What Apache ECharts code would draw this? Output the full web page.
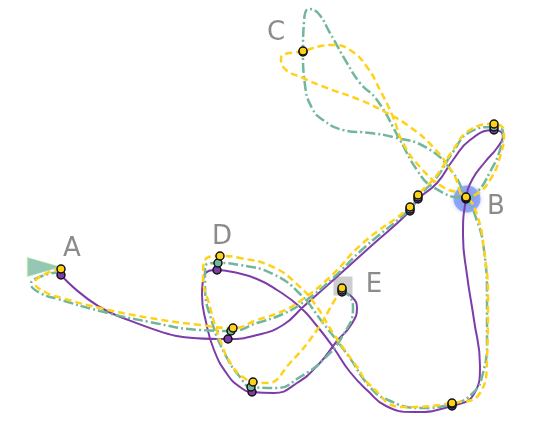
<!DOCTYPE html>
<html>
<head>
<meta charset="utf-8">
<script src="https://cdn.jsdelivr.net/npm/echarts@6/dist/echarts.min.js"></script>
<style>
  html, body { margin: 0; padding: 0; background: #fff; }
  #chart { width: 534px; height: 423px; }
</style>
</head>
<body>
<div id="chart"></div>
<script>
// route waypoints (x, y in plot units, y grows downward)
let purplePath = [
  [61, 275], [118, 316], [228, 339], [257, 335], [283, 325],
  [303, 307], [330, 283], [370, 247], [410, 211], [418, 199], [437, 183], [453, 160],
  [470, 140], [494, 130], [503, 136], [497, 148], [485, 162], [472, 180], [466, 199],
  [463, 235], [467, 275], [474, 320], [480, 366], [474, 394], [452, 406], [413, 412],
  [386, 406], [368, 391], [350, 372], [333, 347], [317, 326], [300, 307], [277, 290],
  [257, 279], [233, 272], [217, 270], [204, 276], [202, 295], [206, 322], [214, 350],
  [227, 374], [240, 387], [252, 392], [274, 393], [297, 383], [318, 365], [337, 341],
  [351, 325], [357, 308], [352, 297], [342, 292]
];
let purpleDots = [0, 2, 8, 9, 13, 18, 24, 35, 42, 50];

let greenPath = [
  [61, 272], [42, 276], [31, 284], [40, 293], [58, 299], [100, 311], [150, 322],
  [200, 330], [231, 331], [257, 323], [283, 314], [305, 301], [332, 279], [365, 247],
  [410, 209], [418, 197], [437, 177], [453, 152], [470, 132], [494, 127], [503, 132],
  [500, 150], [490, 172], [478, 191], [466, 198], [433, 187], [417, 170], [400, 140],
  [377, 100], [360, 83], [347, 63], [330, 33], [318, 13], [309, 9], [304, 22],
  [303, 52], [305, 85], [312, 108], [323, 120], [343, 130], [370, 133], [393, 137],
  [427, 148], [453, 173], [466, 198], [475, 215], [484, 250], [487, 300], [487, 340],
  [483, 373], [473, 393], [452, 404], [420, 408], [388, 400], [370, 387], [347, 354],
  [323, 323], [300, 294], [273, 274], [240, 265], [218, 263], [205, 267], [205, 285],
  [212, 322], [226, 356], [240, 377], [251, 387], [277, 388], [300, 377], [323, 360],
  [345, 332], [353, 308], [350, 297], [342, 290]
];
let greenDots = [8, 14, 15, 19, 24, 35, 51, 60, 66, 73];

let yellowPath = [
  [61, 269], [43, 275], [35, 283], [45, 292], [62, 298], [100, 308], [150, 318],
  [200, 325], [233, 328], [257, 320], [283, 311], [303, 299], [330, 277], [363, 243],
  [410, 207], [418, 195], [437, 175], [453, 150], [470, 130], [494, 124], [504, 132],
  [500, 157], [490, 180], [478, 193], [466, 197], [453, 173], [433, 147], [410, 127],
  [387, 113], [360, 100], [327, 88], [303, 78], [284, 68], [281, 58], [303, 51],
  [333, 45], [350, 50], [367, 67], [380, 90], [393, 117], [403, 143], [420, 167],
  [443, 187], [466, 197], [477, 215], [484, 250], [488, 300], [487, 360], [480, 393],
  [452, 403], [403, 407], [370, 385], [357, 367], [333, 333], [317, 307], [300, 287],
  [273, 267], [240, 258], [220, 256], [205, 260], [203, 275], [210, 307], [220, 340],
  [233, 367], [247, 380], [253, 382], [267, 383], [290, 363], [317, 330], [333, 303],
  [342, 288]
];
let yellowDots = [0, 8, 14, 15, 19, 24, 34, 49, 58, 65, 70];

let nodeNames = ["A", "B", "C", "D", "E"];
let nodeMarks = [[44, 267], [467, 199], [303, 51], [218, 262], [343, 286]];
let nodeLabels = [[72, 249], [496, 207], [276, 33], [222, 237], [374, 285]];

let color = ["#7d3ca8", "#72b79c", "#ffd21a", "#6e6e6e", "#111"];

function route(path, dots) {
  return path.map((p, i) => ({
    value: p,
    symbol: dots.indexOf(i) >= 0 ? "circle" : "none"
  }));
}

function lineSeries(name, path, dots, c, type, width) {
  return {
    name: name,
    type: "line",
    smooth: 0.5,
    showAllSymbol: true,
    symbolSize: 8,
    data: route(path, dots),
    lineStyle: { color: c, width: width, type: type, cap: "butt" },
    itemStyle: { color: c, borderColor: color[4], borderWidth: 1.5 },
    emphasis: { disabled: true },
    z: 3
  };
}

let markStyles = [
  { symbol: "triangle", symbolSize: [19, 33], symbolRotate: -90,
    itemStyle: { color: "rgba(114,183,156,0.95)", borderColor: "#b5e6a8", borderWidth: 1 } },
  { symbol: "circle", symbolSize: 27,
    itemStyle: { color: "rgba(96,128,240,0.75)", shadowBlur: 4, shadowColor: "rgba(96,128,240,0.6)" } },
  { symbol: "none" },
  { symbol: "none" },
  { symbol: "rect", symbolSize: 19,
    itemStyle: { color: "rgba(150,150,150,0.6)" } }
];

let dom = document.getElementById("chart");
let myChart = echarts.init(dom);

let option = {
  backgroundColor: "#fff",
  animation: false,
  grid: { left: 0, right: 0, top: 0, bottom: 0 },
  xAxis: { type: "value", min: 0, max: 534, show: false },
  yAxis: { type: "value", min: 0, max: 423, inverse: true, show: false },
  series: [
    {
      name: "marks",
      type: "scatter",
      z: 1,
      silent: true,
      data: nodeMarks.map((p, i) => Object.assign({ value: p }, markStyles[i]))
    },
    lineSeries("purple", purplePath, purpleDots, color[0], "solid", 2),
    lineSeries("green", greenPath, greenDots, color[1], [10, 3, 2, 3], 2.5),
    lineSeries("yellow", yellowPath, yellowDots, color[2], [7, 4], 2.5),
    {
      name: "labels",
      type: "scatter",
      symbolSize: 0,
      silent: true,
      z: 4,
      data: nodeLabels.map((p, i) => ({ value: p, name: nodeNames[i] })),
      label: {
        show: true,
        position: "inside",
        formatter: "{b}",
        color: color[3],
        fontSize: 26,
        fontFamily: "DejaVu Sans"
      }
    }
  ]
};

myChart.setOption(option, true);
</script>
</body>
</html>
